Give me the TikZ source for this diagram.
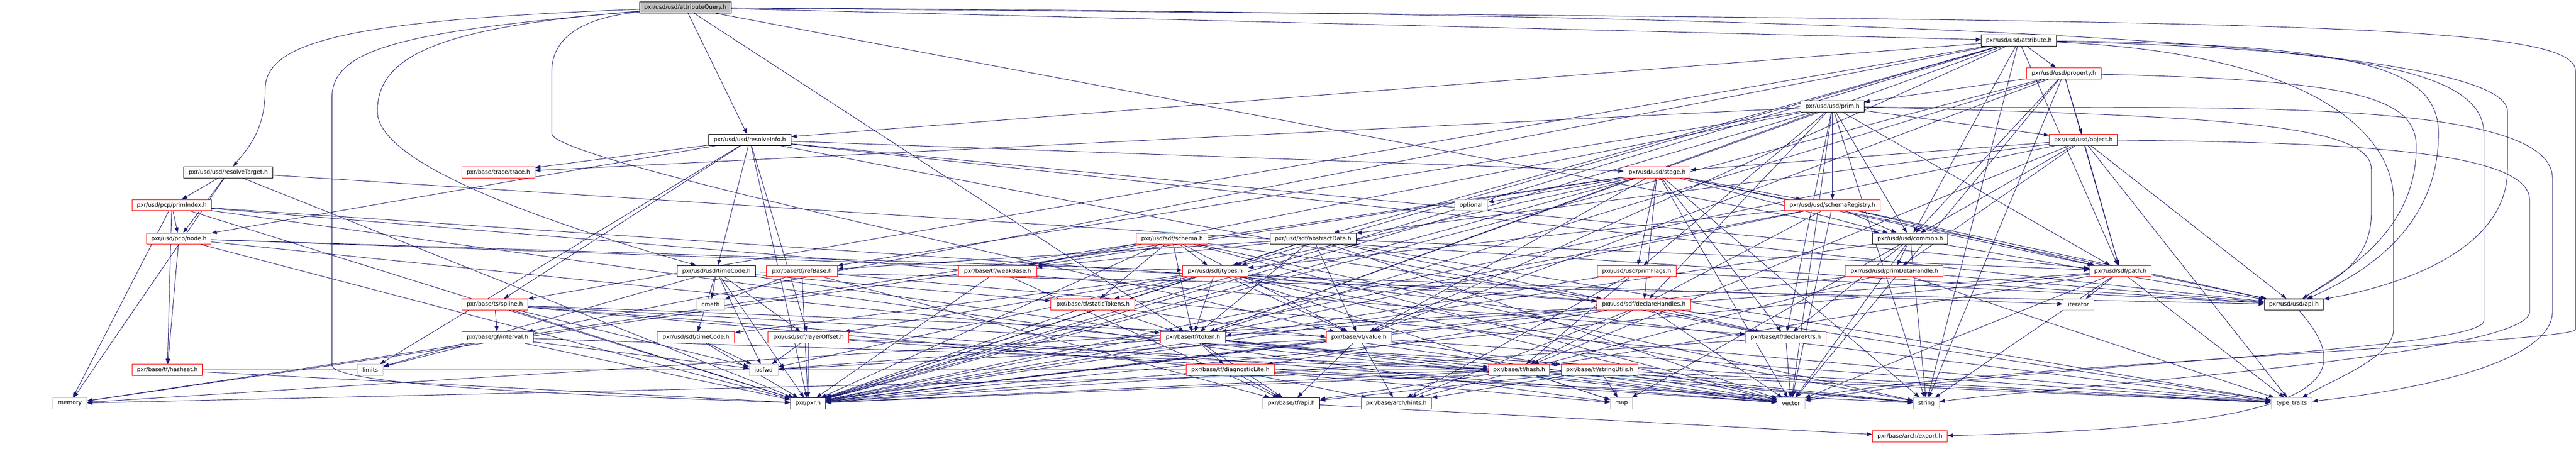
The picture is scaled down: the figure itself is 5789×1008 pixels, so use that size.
\documentclass[tikz,border=0pt]{standalone}
\usepackage{fontspec}
\setmainfont{DejaVu Sans}
\usetikzlibrary{arrows.meta,backgrounds}
\definecolor{edgeblue}{HTML}{191970}
\definecolor{boxgray}{HTML}{BFBFBF}
\tikzset{
  hdr/.style={draw=black, fill=white, line width=0.9pt, minimum height=18.75pt, inner sep=0pt, font=\fontsize{9.6}{11.5}\selectfont},
  hdrcut/.style={hdr, draw=red},
  syshdr/.style={hdr, draw=boxgray},
  wd/.style={minimum width=#1*0.75pt},
  dep/.style={edgeblue, line width=0.8pt, -{Triangle[length=9pt,width=6.5pt]}},
}

\begin{document}
\begin{tikzpicture}[x=0.75pt,y=-0.75pt]
		%%%%% headers %%%%%
		\useasboundingbox (0,0) rectangle (5789,1008);
		
		\node[hdr, fill=boxgray, wd=206] (aq) at (1540,17) {pxr/usd/usd/attributeQuery.h};
		\node[hdr, wd=169] (attr) at (4537,91) {pxr/usd/usd/attribute.h};
		\node[hdrcut, wd=167] (prop) at (4638,165) {pxr/usd/usd/property.h};
		\node[hdr, wd=142] (prim) at (4118,239) {pxr/usd/usd/prim.h};
		\node[hdr, wd=186] (rinfo) at (1685,314) {pxr/usd/usd/resolveInfo.h};
		\node[hdrcut, wd=153] (obj) at (4682,314) {pxr/usd/usd/object.h};
		\node[hdr, wd=201] (rtgt) at (513,387) {pxr/usd/usd/resolveTarget.h};
		\node[hdrcut, wd=164] (trace) at (1120,387) {pxr/base/trace/trace.h};
		\node[hdrcut, wd=149] (stage) at (3724,387) {pxr/usd/usd/stage.h};
		\node[hdrcut, wd=179] (pidx) at (386,461) {pxr/usd/pcp/primIndex.h};
		\node[syshdr, wd=75] (optional) at (3306,461) {optional};
		\node[hdrcut, wd=215] (sreg) at (4118,461) {pxr/usd/usd/schemaRegistry.h};
		\node[hdrcut, wd=145] (pnode) at (402,536) {pxr/usd/pcp/node.h};
		\node[hdrcut, wd=161] (schema) at (2634,536) {pxr/usd/sdf/schema.h};
		\node[hdr, wd=193] (adata) at (2951,536) {pxr/usd/sdf/abstractData.h};
		\node[hdr, wd=169] (common) at (4293,536) {pxr/usd/usd/common.h};
		\node[hdr, wd=176] (utc) at (1610,609) {pxr/usd/usd/timeCode.h};
		\node[hdrcut, wd=159] (refbase) at (1802,609) {pxr/base/tf/refBase.h};
		\node[hdrcut, wd=175] (weakbase) at (2242,609) {pxr/base/tf/weakBase.h};
		\node[hdrcut, wd=147] (stypes) at (2731,609) {pxr/usd/sdf/types.h};
		\node[hdrcut, wd=177] (pflags) at (3678,609) {pxr/usd/usd/primFlags.h};
		\node[hdrcut, wd=220] (pdh) at (4257,609) {pxr/usd/usd/primDataHandle.h};
		\node[hdrcut, wd=138] (path) at (4765,609) {pxr/usd/sdf/path.h};
		\node[hdrcut, wd=148] (spline) at (1112,684) {pxr/base/ts/spline.h};
		\node[syshdr, wd=62] (cmath) at (1597,684) {cmath};
		\node[hdrcut, wd=189] (stok) at (2456,684) {pxr/base/tf/staticTokens.h};
		\node[hdrcut, wd=210] (dhandles) at (3694,684) {pxr/usd/sdf/declareHandles.h};
		\node[syshdr, wd=70] (iterator) at (4671,684) {iterator};
		\node[hdr, wd=133] (usdapi) at (5155,684) {pxr/usd/usd/api.h};
		\node[hdrcut, wd=161] (interval) at (1118,758) {pxr/base/gf/interval.h};
		\node[hdrcut, wd=174] (stc) at (1564,758) {pxr/usd/sdf/timeCode.h};
		\node[hdrcut, wd=182] (loff) at (1817,758) {pxr/usd/sdf/layerOffset.h};
		\node[hdrcut, wd=146] (token) at (2681,758) {pxr/base/tf/token.h};
		\node[hdrcut, wd=147] (value) at (3054,758) {pxr/base/vt/value.h};
		\node[hdrcut, wd=181] (dptrs) at (4013,758) {pxr/base/tf/declarePtrs.h};
		\node[hdrcut, wd=158] (hashset) at (376,831) {pxr/base/tf/hashset.h};
		\node[syshdr, wd=58] (limits) at (832,831) {limits};
		\node[syshdr, wd=65] (iosfwd) at (1716,831) {iosfwd};
		\node[hdrcut, wd=198] (diag) at (2765,831) {pxr/base/tf/diagnosticLite.h};
		\node[hdrcut, wd=137] (hash) at (3414,831) {pxr/base/tf/hash.h};
		\node[hdrcut, wd=173] (sutils) at (3595,831) {pxr/base/tf/stringUtils.h};
		\node[syshdr, wd=76] (memory) at (157,906) {memory};
		\node[hdr, wd=79] (pxr) at (1816,906) {pxr/pxr.h};
		\node[hdr, wd=127] (tfapi) at (2902,906) {pxr/base/tf/api.h};
		\node[hdrcut, wd=158] (hints) at (3138,906) {pxr/base/arch/hints.h};
		\node[syshdr, wd=50] (map) at (3644,906) {map};
		\node[syshdr, wd=62] (vector) at (4025,906) {vector};
		\node[syshdr, wd=58] (string) at (4329,906) {string};
		\node[syshdr, wd=92] (ttraits) at (5150,906) {type\_traits};
		\node[hdrcut, wd=168] (export) at (4292,980) {pxr/base/arch/export.h};
		
		%%%%% includes %%%%%
		\begin{scope}[on background layer]
		\fill[white] (0,0) rectangle (5789,1008);
		
		% long detours
		\draw[dep] (aq) .. controls (800,45) and (596,90) .. (596,200) .. controls (596,290) and (560,330) .. (rtgt);
		\draw[dep] (aq) .. controls (900,70) and (746,110) .. (746,220) -- (746,820) .. controls (746,870) and (1400,890) .. (pxr);
		\draw[dep] (aq) .. controls (1000,60) and (848,120) .. (848,250) .. controls (848,380) and (1300,520) .. (utc);
		\draw[dep] (aq) .. controls (1300,40) and (1240,90) .. (1240,160) -- (1240,300) .. controls (1240,360) and (2400,600) .. (value);
		\draw[dep] (aq) .. controls (4000,30) and (5635,80) .. (5635,250) -- (5635,380) .. controls (5635,560) and (5400,640) .. (usdapi);
		\draw[dep] (aq) .. controls (5000,50) and (5788,40) .. (5788,160) -- (5788,740) .. controls (5788,770) and (4300,830) .. (vector);
		\draw[dep] (attr) .. controls (5300,100) and (5480,150) .. (5480,300) .. controls (5480,520) and (5300,620) .. (usdapi);
		\draw[dep] (attr) .. controls (5200,120) and (5379,300) .. (5379,450) -- (5379,740) .. controls (5379,800) and (5250,850) .. (ttraits);
		\draw[dep] (attr) .. controls (5300,110) and (5582,160) .. (5582,300) -- (5582,720) .. controls (5582,790) and (4500,820) .. (vector);
		\draw[dep] (prop) .. controls (5300,180) and (5430,220) .. (5430,330) .. controls (5430,530) and (5250,620) .. (usdapi);
		\draw[dep] (prim) .. controls (5000,260) and (5329,280) .. (5329,380) -- (5329,480) .. controls (5329,600) and (5220,640) .. (usdapi);
		\draw[dep] (prim) .. controls (4800,250) and (5736,200) .. (5736,400) -- (5736,700) .. controls (5736,820) and (5400,880) .. (ttraits);
		\draw[dep] (obj) .. controls (5300,320) and (5685,340) .. (5685,450) -- (5685,700) .. controls (5685,800) and (4600,870) .. (string);
		\draw[dep] (usdapi) .. controls (5300,850) and (5250,960) .. (export);
		
		% direct
		\path[dep] (aq) edge (attr) edge (common) edge (rinfo) edge (token);
		\path[dep] (attr) edge (prop) edge (common) edge (rinfo) edge (path) edge (stypes) edge (adata) edge (spline) edge (token) edge (value) edge (interval) edge (string) edge (pxr);
		\path[dep] (prop) edge (common) edge (obj) edge (prim) edge (path) edge (value) edge (token) edge (vector) edge (string) edge (pxr);
		\path[dep] (prim) edge (common) edge (obj) edge (pflags) edge (sreg) edge (dhandles) edge (trace) edge (dptrs) edge (refbase) edge (token) edge (weakbase) edge (path) edge (string) edge (vector) edge (pxr);
		\path[dep] (obj) edge (common) edge (pdh) edge (stage) edge (adata) edge (path) edge (hash) edge (ttraits) edge (usdapi) edge (pxr);
		\path[dep] (rinfo) edge (usdapi) edge (stage) edge (utc) edge (loff) edge (path) edge (pnode) edge (dptrs) edge (spline) edge (limits) edge (trace) edge (pxr);
		\path[dep] (rtgt) edge (usdapi) edge (pnode) edge (pidx) edge (memory) edge (pxr);
		\path[dep] (stage) edge (usdapi) edge (common) edge (sreg) edge (pflags) edge (dptrs) edge (weakbase) edge (dhandles) edge (path) edge (stypes) edge (value) edge (optional) edge (string) edge (memory) edge (vector) edge (pxr);
		\path[dep] (pidx) edge (pnode) edge (dhandles) edge (dptrs) edge (hashset) edge (map) edge (memory) edge (pxr);
		\path[dep] (sreg) edge (usdapi) edge (common) edge (token) edge (hash) edge (path) edge (stypes) edge (vector) edge (pxr);
		\path[dep] (pnode) edge (stypes) edge (iterator) edge (hashset) edge (vector) edge (pxr);
		\path[dep] (schema) edge (dhandles) edge (stypes) edge (stok) edge (token) edge (weakbase) edge (value) edge (string) edge (vector) edge (memory) edge (pxr);
		\path[dep] (adata) edge (path) edge (stypes) edge (token) edge (dptrs) edge (refbase) edge (weakbase) edge (value) edge (vector) edge (ttraits) edge (pxr);
		\path[dep] (common) edge (usdapi) edge (pdh) edge (dptrs) edge (map) edge (string) edge (vector) edge (pxr);
		\path[dep] (utc) edge (usdapi) edge (stc) edge (loff) edge (stok) edge (token) edge (limits) edge (iosfwd) edge (cmath) edge (pxr);
		\path[dep] (refbase) edge (tfapi) edge (cmath) edge (ttraits) edge (pxr);
		\path[dep] (weakbase) edge (tfapi) edge (pxr);
		\path[dep] (stypes) edge (stc) edge (loff) edge (dhandles) edge (token) edge (stok) edge (value) edge (iosfwd) edge (map) edge (string) edge (vector) edge (ttraits) edge (pxr);
		\path[dep] (pflags) edge (usdapi) edge (hash) edge (hints) edge (pxr);
		\path[dep] (pdh) edge (usdapi) edge (hints) edge (ttraits) edge (pxr);
		\path[dep] (path) edge (token) edge (iterator) edge (string) edge (ttraits) edge (vector) edge (hash) edge (pxr);
		\path[dep] (spline) edge (interval) edge (value) edge (iosfwd) edge (vector) edge (map) edge (ttraits) edge (pxr);
		\path[dep] (stok) edge (token) edge (vector) edge (pxr);
		\path[dep] (dhandles) edge (hints) edge (diag) edge (dptrs) edge (ttraits) edge (vector) edge (memory) edge (pxr);
		\path[dep] (interval) edge (hash) edge (iosfwd) edge (limits) edge (pxr);
		\path[dep] (stc) edge (iosfwd) edge (pxr);
		\path[dep] (loff) edge (iosfwd) edge (hash) edge (vector) edge (pxr);
		\path[dep] (token) edge (tfapi) edge (diag) edge (hash) edge (iosfwd) edge (string) edge (vector) edge (pxr);
		\path[dep] (value) edge (hints) edge (sutils) edge (tfapi) edge (ttraits) edge (iosfwd) edge (pxr);
		\path[dep] (dptrs) edge (vector) edge (pxr);
		\path[dep] (hashset) edge (hash) edge (pxr);
		\path[dep] (diag) edge (tfapi) edge (hints) edge (string) edge (pxr);
		\path[dep] (hash) edge (tfapi) edge (map) edge (memory) edge (string) edge (ttraits) edge (vector) edge (pxr);
		\path[dep] (sutils) edge (tfapi) edge (hints) edge (map) edge (string) edge (ttraits) edge (vector) edge (pxr);
		\path[dep] (tfapi) edge (export);
		\end{scope}
		
		%%%%% END %%%%%
	\end{tikzpicture}
\end{document}
